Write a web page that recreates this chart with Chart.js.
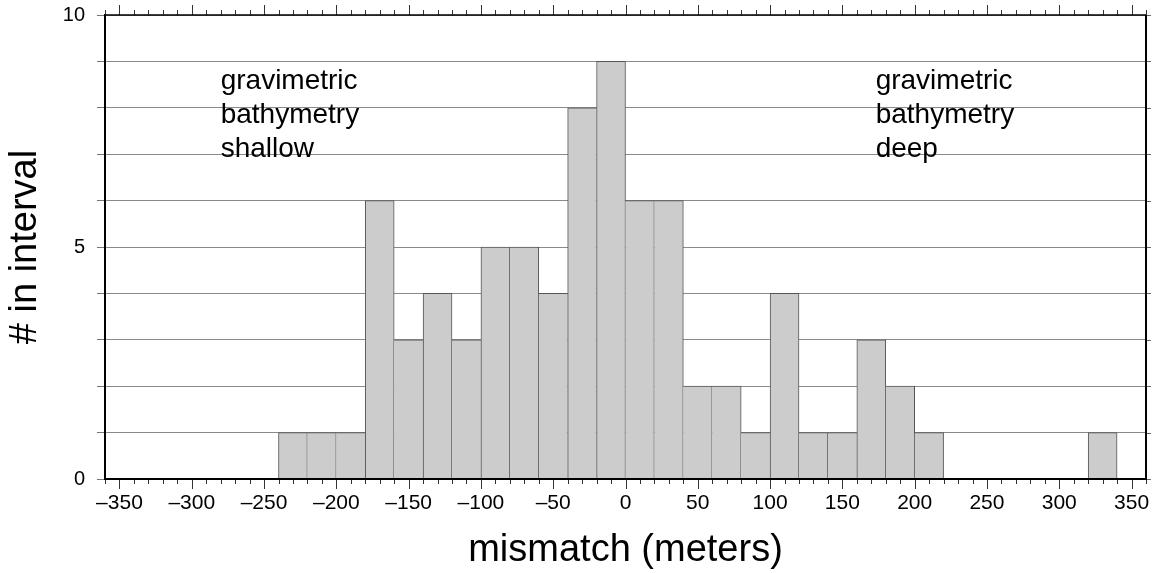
<!DOCTYPE html>
<html>
<head>
<meta charset="utf-8">
<script src="https://cdn.jsdelivr.net/npm/chart.js@4/dist/chart.umd.min.js"></script>
<style>
html,body{margin:0;padding:0;background:#fff;}
#wrap{width:1156px;height:573px;}
</style>
</head>
<body>
<div id="wrap"><canvas id="c" width="1156" height="573"></canvas></div>
<script>
// ---- data ----
const binStarts = [-240,-220,-200,-180,-160,-140,-120,-100,-80,-60,-40,-20,0,20,40,60,80,100,120,140,160,180,200,220,240,260,280,300,320];
const counts    = [1,1,1,6,3,4,3,5,5,4,8,9,6,6,2,2,1,4,1,1,3,2,1,0,0,0,0,0,1];
const binWidth = 20;
const xMin = -360, xMax = 360;
const yMin = 0, yMax = 10;
const xMajorStep = 50, xMinorStep = 10;
const yLabelTicks = [0,5,10];
const leftNote = ['gravimetric','bathymetry','shallow'];
const rightNote = ['gravimetric','bathymetry','deep'];
const leftNoteX = -280, rightNoteX = 173, noteY = 8.4;
const xTitle = 'mismatch (meters)';
const yTitle = '# in interval';

const FONT = '"Liberation Sans", Arial, Helvetica, sans-serif';

const points = binStarts.map((s,i)=>({x: s + binWidth/2, y: counts[i]}));

function fmt(v){ return v < 0 ? '\u2013' + Math.abs(v) : String(v); }

const framePlugin = {
  id: 'frame',
  beforeDatasetsDraw(chart){
    const ctx = chart.ctx;
    const xs = chart.scales.x, ys = chart.scales.y;
    ctx.save();
    ctx.fillStyle = '#000';
    ctx.font = '28px ' + FONT;
    ctx.textBaseline = 'alphabetic';
    ctx.textAlign = 'left';
    const y0 = ys.getPixelForValue(noteY);
    leftNote.forEach((t,i)=>ctx.fillText(t, xs.getPixelForValue(leftNoteX), y0 + i*34));
    rightNote.forEach((t,i)=>ctx.fillText(t, xs.getPixelForValue(rightNoteX), y0 + i*34));
    ctx.restore();
  },
  afterDraw(chart){
    const ctx = chart.ctx, a = chart.chartArea;
    const xs = chart.scales.x, ys = chart.scales.y;
    ctx.save();
    // x ticks top & bottom
    ctx.strokeStyle = '#333';
    ctx.lineWidth = 1;
    for (let v = xMin; v <= xMax; v += xMinorStep){
      const px = Math.round(xs.getPixelForValue(v)) + 0.5;
      const major = v % xMajorStep === 0;
      const len = major ? 10 : 5;
      ctx.beginPath();
      ctx.moveTo(px, a.bottom); ctx.lineTo(px, a.bottom + len);
      ctx.moveTo(px, a.top); ctx.lineTo(px, a.top - len);
      ctx.stroke();
    }
    // right ticks
    ctx.strokeStyle = '#666';
    for (let v = yMin; v <= yMax; v += 1){
      const py = Math.round(ys.getPixelForValue(v)) + 0.5;
      ctx.beginPath();
      ctx.moveTo(a.right, py); ctx.lineTo(a.right + 5, py);
      ctx.stroke();
    }
    // frame: top thin, right/bottom thick
    ctx.strokeStyle = '#000';
    ctx.lineWidth = 1.5;
    ctx.beginPath();
    ctx.moveTo(a.left, a.top); ctx.lineTo(a.right, a.top);
    ctx.stroke();
    ctx.lineWidth = 2;
    ctx.beginPath();
    ctx.moveTo(a.right, a.top); ctx.lineTo(a.right, a.bottom);
    ctx.moveTo(a.left, a.bottom); ctx.lineTo(a.right + 1, a.bottom);
    ctx.stroke();
    ctx.restore();
  }
};

new Chart(document.getElementById('c'), {
  type: 'bar',
  data: {
    datasets: [{
      data: points,
      backgroundColor: '#cccccc',
      borderColor: '#555555',
      borderSkipped: 'start',
      borderWidth: (c) => {
        const i = c.dataIndex;
        const cur = counts[i];
        if (!cur) return 0;
        const prev = i > 0 ? counts[i-1] : 0;
        const next = i < counts.length-1 ? counts[i+1] : 0;
        return {top: 1, bottom: 0, left: prev < cur ? 1 : 0, right: next <= cur ? 1 : 0};
      },
      barPercentage: 1,
      categoryPercentage: 1,
      grouped: false
    }]
  },
  options: {
    responsive: false,
    devicePixelRatio: 1,
    animation: false,
    layout: {padding: {top: 15, right: 10, left: 0, bottom: 0}},
    plugins: {legend: {display: false}, tooltip: {enabled: false}},
    scales: {
      x: {
        type: 'linear',
        offset: false,
        min: xMin, max: xMax,
        afterFit(s){ s.height = 94; s.paddingLeft = 0; s.paddingRight = 0; },
        grid: {display: false, drawTicks: false, offset: false},
        border: {display: false},
        ticks: {
          stepSize: xMajorStep,
          includeBounds: false,
          padding: 12,
          maxRotation: 0,
          autoSkip: false,
          color: '#000',
          font: {family: FONT, size: 21},
          callback: (v) => fmt(v)
        },
        title: {
          display: true, text: xTitle, color: '#000',
          font: {family: FONT, size: 38},
          padding: {top: 0, bottom: 0}
        }
      },
      y: {
        min: yMin, max: yMax,
        z: 1,
        afterFit(s){ s.width = 105; s.paddingTop = 0; s.paddingBottom = 0; },
        grid: {color: '#8a8a8a', lineWidth: 1, tickLength: 8, tickColor: '#777'},
        border: {display: true, color: '#000', width: 2},
        ticks: {
          stepSize: 1,
          padding: 12,
          color: '#000',
          font: {family: FONT, size: 20},
          callback: (v) => yLabelTicks.includes(v) ? String(v) : ''
        },
        title: {
          display: true, text: yTitle, color: '#000',
          font: {family: FONT, size: 38},
          padding: {top: 3, bottom: 0}
        }
      }
    }
  },
  plugins: [framePlugin]
});
</script>
</body>
</html>
